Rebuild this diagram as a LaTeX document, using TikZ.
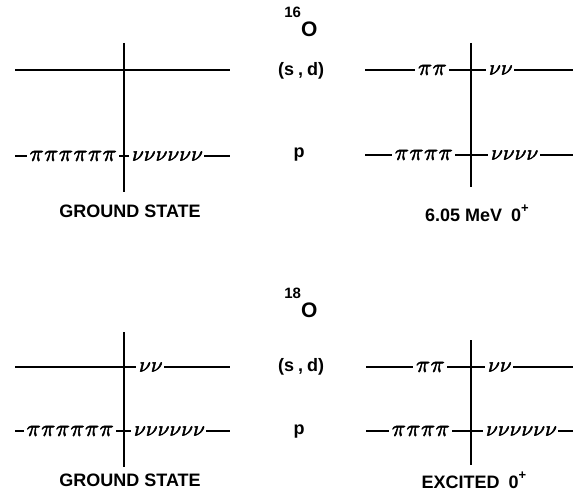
\documentclass[tikz,border=0pt]{standalone}
\usepackage{amsmath,amssymb}
\usepackage{fontspec}
\setmainfont{Liberation Sans}
\newfontfamily\grk{Latin Modern Math}[FakeBold=2.5]
\usetikzlibrary{positioning}
\tikzset{
  level/.style={line width=1pt},
  axis/.style={line width=1pt},
  occ/.style={fill=white,inner sep=1pt,font=\grk\fontsize{11.5}{12}\selectfont},
  shell/.style={font=\bfseries\fontsize{9}{11}\selectfont},
  state/.style={font=\bfseries\fontsize{9}{11}\selectfont},
  nucl/.style={font=\bfseries\fontsize{10.5}{12}\selectfont,inner sep=0pt,anchor=base west}
}
% occupied particles drawn on a level
\newcommand\npi[1]{\foreach\k in {1,...,#1}{\makebox[7.3pt]{𝜋}}}
\newcommand\nnu[1]{\foreach\k in {1,...,#1}{\makebox[5.9pt]{\fontsize{10.5}{12}\selectfont 𝜈}}}
\newcommand\iso[1]{\raisebox{9.5pt}{\fontsize{7.5}{8}\selectfont #1}O}
\newcommand\jp{0\raisebox{4.5pt}{\fontsize{6.5}{7}\selectfont +}}

\begin{document}
\begin{tikzpicture}[x=0.5pt,y=-0.5pt]
\useasboundingbox (0,0) rectangle (573,492);

% ---- 16O ----
\node[nucl] (o16) at (284,37) {\iso{16}};
\node[shell] (sd1) at (301,71) {(s\kern2pt,\kern2pt d)};
\node[shell] (p1) at (299,155) {p};

% ground state
\coordinate (a1) at (15,70);  \coordinate (a2) at (230,70);
\coordinate (a3) at (15,156); \coordinate (a4) at (230,156);
\draw[level] (a1) -- (a2);
\draw[level] (a3) -- (a4);
\draw[axis] (124,43) -- (124,192);
\node[occ,anchor=east] (apl) at (119,156) {\npi{6}};
\node[occ,anchor=west] (anl) at (129,156) {\nnu{6}};
\node[state] (gs1) at (130,211) {GROUND STATE};

% 6.05 MeV
\coordinate (b1) at (365,70);  \coordinate (b2) at (573,70);
\coordinate (b3) at (365,155); \coordinate (b4) at (573,155);
\draw[level] (b1) -- (b2);
\draw[level] (b3) -- (b4);
\draw[axis] (471,43) -- (471,187);
\node[occ,anchor=east] (bpu) at (449,70) {\npi{2}};
\node[occ,anchor=west] (bnu) at (486,70) {\nnu{2}};
\node[occ,anchor=east] (bpl) at (455,155) {\npi{4}};
\node[occ,anchor=west] (bnl) at (488,155) {\nnu{4}};
\node[state] (ex1) at (477,213) {6.05 MeV\enspace\jp};

% ---- 18O ----
\node[nucl] (o18) at (284,317) {\iso{18}};
\node[shell] (sd2) at (301,367) {(s\kern2pt,\kern2pt d)};
\node[shell] (p2) at (299,432) {p};

% ground state
\coordinate (c1) at (15,367); \coordinate (c2) at (230,367);
\coordinate (c3) at (15,431); \coordinate (c4) at (230,431);
\draw[level] (c1) -- (c2);
\draw[level] (c3) -- (c4);
\draw[axis] (124,332) -- (124,467);
\node[occ,anchor=west] (cnu) at (136,367) {\nnu{2}};
\node[occ,anchor=east] (cpl) at (116,431) {\npi{6}};
\node[occ,anchor=west] (cnl) at (131,431) {\nnu{6}};
\node[state] (gs2) at (130,480) {GROUND STATE};

% excited 0+
\coordinate (d1) at (366,367); \coordinate (d2) at (573,367);
\coordinate (d3) at (366,431); \coordinate (d4) at (573,431);
\draw[level] (d1) -- (d2);
\draw[level] (d3) -- (d4);
\draw[axis] (471,340) -- (471,465);
\node[occ,anchor=east] (dpu) at (447,367) {\npi{2}};
\node[occ,anchor=west] (dnu) at (485,367) {\nnu{2}};
\node[occ,anchor=east] (dpl) at (452,431) {\npi{4}};
\node[occ,anchor=west] (dnl) at (483,431) {\nnu{6}};
\node[state] (ex2) at (474,480) {EXCITED\enspace\jp};
\end{tikzpicture}
\end{document}
